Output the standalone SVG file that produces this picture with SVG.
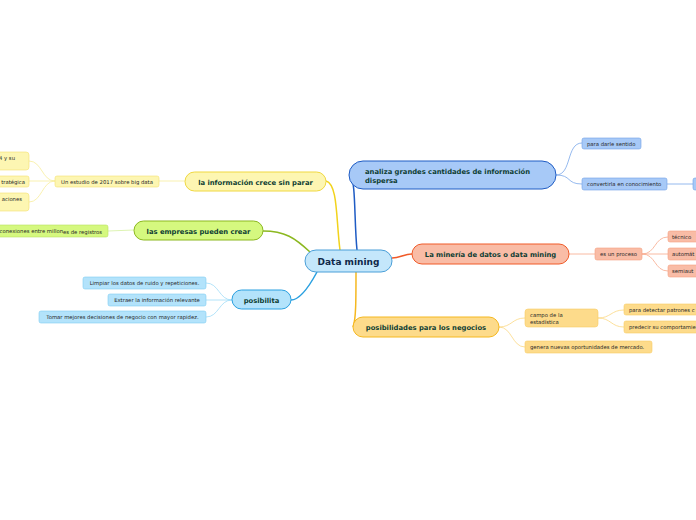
<svg xmlns="http://www.w3.org/2000/svg" width="696" height="520" viewBox="0 0 696 520">
<style>
.main{font-family:"DejaVu Sans",Verdana,sans-serif;font-weight:bold;font-size:6.8px;fill:#0e3e33}
.center{font-family:"DejaVu Sans",Verdana,sans-serif;font-weight:bold;font-size:9px;fill:#0f2748}
.sm{font-family:"DejaVu Sans",Verdana,sans-serif;font-size:5.3px;fill:#262626}
.c{fill:none}
</style>
<rect width="696" height="520" fill="#fff"/>
<g id="connectors" class="c">
<path d="M340,250 C336,220 338,184 326,181" stroke="#f2d31c" stroke-width="1.5"/>
<path d="M357,250 C354,220 356,180 350,175" stroke="#1f5cc4" stroke-width="1.5"/>
<path d="M392,258 C400,258 404,254 412,254" stroke="#f05a28" stroke-width="1.5"/>
<path d="M356,272 C356,300 356,320 353,327" stroke="#f5b820" stroke-width="1.5"/>
<path d="M310,252 C295,238 285,231 263,231" stroke="#8cb820" stroke-width="1.5"/>
<path d="M317,272 C310,285 300,300 291,300" stroke="#2aa0e0" stroke-width="1.5"/>
<g stroke="#7aa7ea" stroke-width="0.8">
<path d="M556,175 C572,175 566,143 582,143"/>
<path d="M556,175 C572,175 566,184 582,184"/>
<path d="M667,184 L693,184"/>
</g>
<g stroke="#f7a88c" stroke-width="0.8">
<path d="M569,254 L595,254"/>
<path d="M642,254 C656,254 654,237 668,237"/>
<path d="M642,254 L668,254"/>
<path d="M642,254 C656,254 654,271 668,271"/>
</g>
<g stroke="#fbd883" stroke-width="0.8">
<path d="M499,327 C512,327 512,318 525,318"/>
<path d="M499,327 C512,327 512,347 525,347"/>
<path d="M598,318 C611,318 611,310 624,310"/>
<path d="M598,318 C611,318 611,327 624,327"/>
</g>
<g stroke="#f8ed9c" stroke-width="0.8">
<path d="M185,181 L159,181"/>
<path d="M55,181 C42,181 42,161 29,161"/>
<path d="M55,181 L29,181"/>
<path d="M55,181 C42,181 42,202 29,202"/>
</g>
<path d="M134,230 L108,231" stroke="#d4f0a0" stroke-width="0.8"/>
<g stroke="#9fdcf8" stroke-width="0.8">
<path d="M232,300 C219,300 219,283 206,283"/>
<path d="M232,300 L206,300"/>
<path d="M232,300 C219,300 219,317 206,317"/>
</g>
</g>
<g id="n-center"><rect x="305" y="250" width="87" height="22" rx="11" fill="#c4e7fb" stroke="#4a9fd8" stroke-width="1"/><text x="348.5" y="264.5" text-anchor="middle" class="center">Data mining</text></g>
<g id="n-analiza"><rect x="349" y="161" width="207" height="28" rx="14" fill="#a7c9f7" stroke="#1f5cc4" stroke-width="1"/><text x="365" y="174" class="main">analiza grandes cantidades de información</text><text x="365" y="183" class="main">dispersa</text></g>
<g id="n-sentido"><rect x="582" y="138" width="59" height="11" rx="2" fill="#a7c9f7" stroke="#6f9fe6" stroke-width="0.6"/><text x="587" y="145.5" class="sm">para darle sentido</text></g>
<g id="n-convertirla"><rect x="582" y="178" width="85" height="12" rx="2" fill="#a7c9f7" stroke="#6f9fe6" stroke-width="0.6"/><text x="587" y="186" class="sm">convertirla en conocimiento</text></g>
<g id="n-conv-child"><rect x="693" y="178" width="12" height="12" rx="2" fill="#a7c9f7" stroke="#6f9fe6" stroke-width="0.6"/></g>
<g id="n-mineria"><rect x="412" y="244" width="157" height="20" rx="10" fill="#f9bca6" stroke="#f05a28" stroke-width="1"/><text x="490.5" y="256.5" text-anchor="middle" class="main">La minería de datos o data mining</text></g>
<g id="n-proceso"><rect x="595" y="248" width="47" height="12" rx="2" fill="#f9bca6" stroke="#f5a080" stroke-width="0.6"/><text x="618.5" y="256" text-anchor="middle" class="sm">es un proceso</text></g>
<g id="n-tecnico"><rect x="668" y="231" width="40" height="11" rx="2" fill="#f9bca6" stroke="#f5a080" stroke-width="0.6"/><text x="672" y="238.5" class="sm">técnico</text></g>
<g id="n-automatico"><rect x="668" y="248" width="40" height="12" rx="2" fill="#f9bca6" stroke="#f5a080" stroke-width="0.6"/><text x="672" y="256" class="sm">automát</text></g>
<g id="n-semiauto"><rect x="668" y="265" width="40" height="12" rx="2" fill="#f9bca6" stroke="#f5a080" stroke-width="0.6"/><text x="672" y="273" class="sm">semiaut</text></g>
<g id="n-posib-neg"><rect x="353" y="317" width="146" height="20" rx="10" fill="#fddb8b" stroke="#f5b820" stroke-width="1"/><text x="426" y="329.5" text-anchor="middle" class="main">posibilidades para los negocios</text></g>
<g id="n-campo"><rect x="525" y="309" width="73" height="18" rx="3" fill="#fddb8b" stroke="#f9cc66" stroke-width="0.6"/><text x="530" y="317" class="sm">campo de la</text><text x="530" y="323.5" class="sm">estadística</text></g>
<g id="n-patrones"><rect x="624" y="304" width="80" height="11" rx="2" fill="#fddb8b" stroke="#f9cc66" stroke-width="0.6"/><text x="629" y="311.5" class="sm">para detectar patrones c</text></g>
<g id="n-predecir"><rect x="624" y="321" width="80" height="12" rx="2" fill="#fddb8b" stroke="#f9cc66" stroke-width="0.6"/><text x="629" y="329" class="sm">predecir su comportamie</text></g>
<g id="n-genera"><rect x="525" y="341" width="127" height="12" rx="2" fill="#fddb8b" stroke="#f9cc66" stroke-width="0.6"/><text x="530" y="349" class="sm">genera nuevas oportunidades de mercado.</text></g>
<g id="n-crece"><rect x="185" y="172" width="141" height="19" rx="9.5" fill="#fdf6b2" stroke="#f0d840" stroke-width="1"/><text x="255.5" y="184.5" text-anchor="middle" class="main">la información crece sin parar</text></g>
<g id="n-estudio"><rect x="55" y="176" width="104" height="11" rx="2" fill="#fdf6b2" stroke="#f5e070" stroke-width="0.6"/><text x="107" y="183.5" text-anchor="middle" class="sm">Un estudio de 2017 sobre big data</text></g>
<g id="n-left1"><rect x="-20" y="152" width="49" height="18" rx="3" fill="#fdf6b2" stroke="#f5e070" stroke-width="0.6"/><text x="15" y="159.5" text-anchor="end" class="sm">4 y su</text></g>
<g id="n-left2"><rect x="-20" y="176" width="49" height="11" rx="2" fill="#fdf6b2" stroke="#f5e070" stroke-width="0.6"/><text x="25" y="183.5" text-anchor="end" class="sm">tratégica</text></g>
<g id="n-left3"><rect x="-20" y="193" width="49" height="18" rx="3" fill="#fdf6b2" stroke="#f5e070" stroke-width="0.6"/><text x="22" y="200.5" text-anchor="end" class="sm">aciones</text></g>
<g id="n-empresas"><rect x="134" y="221" width="129" height="19" rx="9.5" fill="#d5f87f" stroke="#8cb820" stroke-width="1"/><text x="198.5" y="233.5" text-anchor="middle" class="main">las empresas pueden crear</text></g>
<g id="n-conexiones"><rect x="-20" y="225" width="128" height="12" rx="2" fill="#d5f87f" stroke="#b8e060" stroke-width="0.6"/><text x="63" y="232.5" text-anchor="end" class="sm">conexiones entre millon</text><text x="63" y="233.5" class="sm">es de registros</text></g>
<g id="n-posibilita"><rect x="232" y="290" width="59" height="19" rx="9.5" fill="#b3e3fb" stroke="#2aa0e0" stroke-width="1"/><text x="261.5" y="302.5" text-anchor="middle" class="main">posibilita</text></g>
<g id="n-limpiar"><rect x="83" y="277" width="123" height="12" rx="2" fill="#b3e3fb" stroke="#80cdf2" stroke-width="0.6"/><text x="144.5" y="285" text-anchor="middle" class="sm">Limpiar los datos de ruido y repeticiones.</text></g>
<g id="n-extraer"><rect x="108" y="294" width="98" height="12" rx="2" fill="#b3e3fb" stroke="#80cdf2" stroke-width="0.6"/><text x="157" y="302" text-anchor="middle" class="sm">Extraer la información relevante</text></g>
<g id="n-tomar"><rect x="39" y="311" width="167" height="12" rx="2" fill="#b3e3fb" stroke="#80cdf2" stroke-width="0.6"/><text x="122.5" y="319" text-anchor="middle" class="sm">Tomar mejores decisiones de negocio con mayor rapidez.</text></g>
</svg>
